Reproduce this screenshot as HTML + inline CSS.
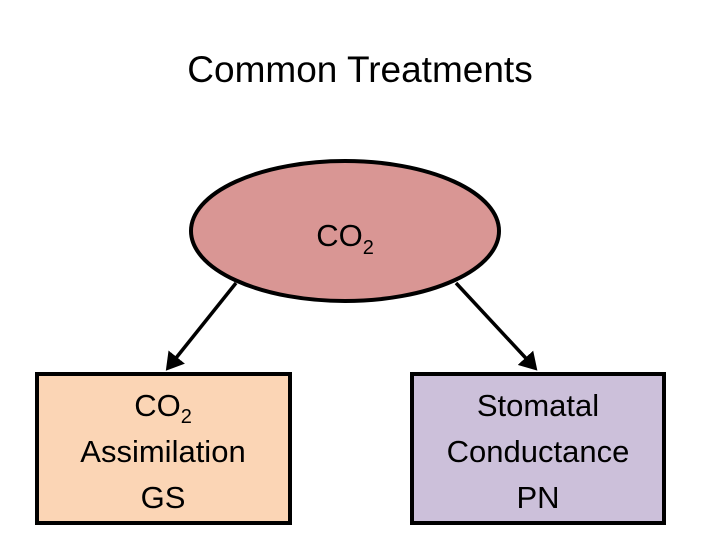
<!DOCTYPE html>
<html><head><style>
html,body{margin:0;padding:0;background:#fff;width:720px;height:540px;overflow:hidden}
</style></head><body>
<svg width="720" height="540" xmlns="http://www.w3.org/2000/svg" font-family="Liberation Sans, sans-serif">
<defs><marker id="a" markerWidth="6" markerHeight="6" refX="4" refY="3" orient="auto" markerUnits="strokeWidth"><path d="M0,0 L5,3 L0,6 z" fill="#000"/></marker></defs>
<text x="360" y="82" font-size="37" text-anchor="middle" fill="#000">Common Treatments</text>
<ellipse cx="345" cy="231" rx="154" ry="70" fill="#d99694" stroke="#000" stroke-width="4"/>
<text x="345" y="246" font-size="31" text-anchor="middle" fill="#000">CO<tspan font-size="20" dy="8">2</tspan></text>
<line x1="236" y1="283" x2="168" y2="368" stroke="#000" stroke-width="3.5" marker-end="url(#a)"/>
<line x1="456" y1="283" x2="535" y2="368" stroke="#000" stroke-width="3.5" marker-end="url(#a)"/>
<rect x="37" y="374" width="253" height="149" fill="#fbd5b5" stroke="#000" stroke-width="4"/>
<rect x="412" y="374" width="252" height="149" fill="#ccc0da" stroke="#000" stroke-width="4"/>
<g font-size="31" text-anchor="middle" fill="#000">
<text x="163" y="416">CO<tspan font-size="20" dy="7">2</tspan></text>
<text x="163" y="462">Assimilation</text>
<text x="163" y="508">GS</text>
<text x="538" y="416">Stomatal</text>
<text x="538" y="462">Conductance</text>
<text x="538" y="508">PN</text>
</g>
</svg>
</body></html>
